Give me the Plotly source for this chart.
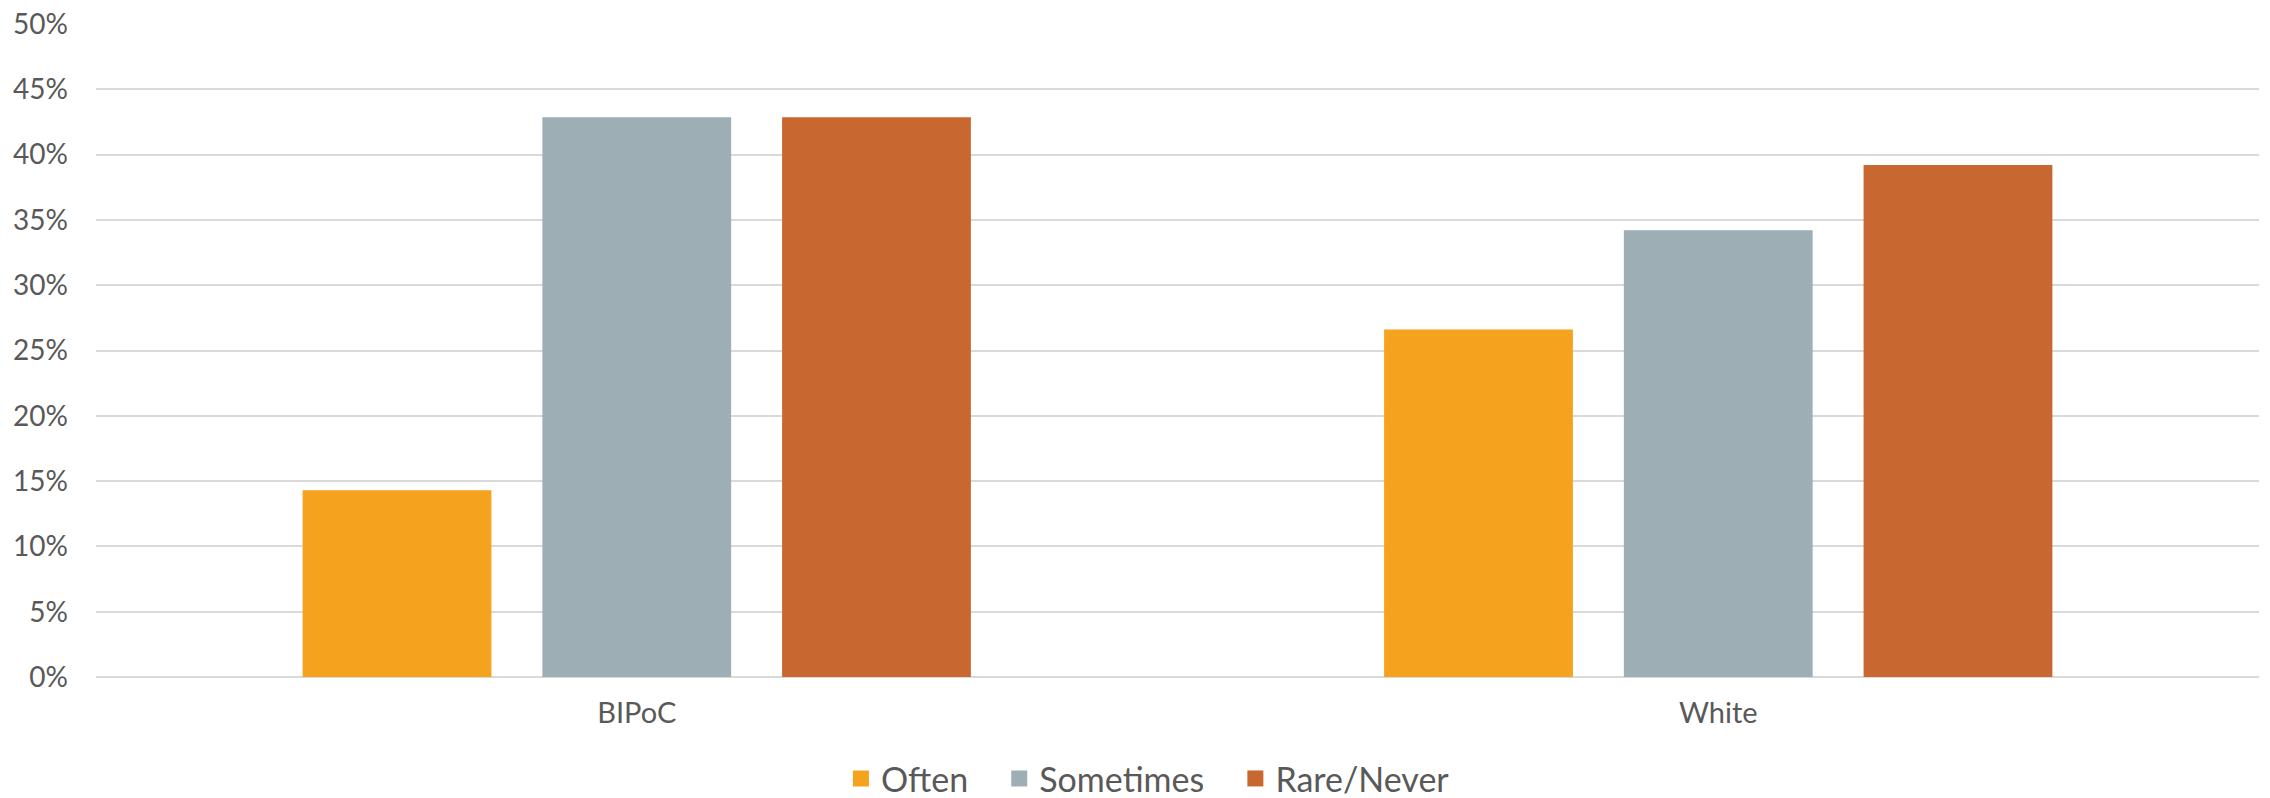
import plotly.graph_objects as go

categories = ["BIPoC", "White"]
series_names = ["Often", "Sometimes", "Rare/Never"]
often = [0.1429, 0.266]
sometimes = [0.4286, 0.342]
rare_never = [0.4286, 0.392]
colors = ["#F5A31E", "#9DAFB4", "#C8672F"]
tick_vals = [0, 0.05, 0.10, 0.15, 0.20, 0.25, 0.30, 0.35, 0.40, 0.45, 0.50]
tick_text = ["0%", "5%", "10%", "15%", "20%", "25%", "30%", "35%", "40%", "45%", "50%"]

FONT = "Lato"
TXT = "#595959"
PAD = "\u00a0\u00a0\u00a0"

fig = go.Figure()
for name, vals, col in zip(series_names, [often, sometimes, rare_never], colors):
    fig.add_trace(go.Bar(x=categories, y=vals, name=name, marker_color=col,
                         marker_line_width=0, showlegend=False))
# legend-only entries with larger square markers
for i, (name, col) in enumerate(zip(series_names, colors)):
    label = name + (PAD if i < len(series_names) - 1 else "")
    fig.add_trace(go.Scatter(x=[None], y=[None], mode="markers", name=label,
                             marker=dict(symbol="square", size=17, color=col)))

fig.update_layout(
    width=2270, height=798,
    margin=dict(l=96, r=11, t=24, b=121),
    paper_bgcolor="white", plot_bgcolor="white",
    barmode="group", bargap=0.335, bargroupgap=0.2125,
    font=dict(family=FONT, size=28, color=TXT),
    legend=dict(orientation="h", x=0.5057, xanchor="center", xref="container",
                y=0.024, yanchor="middle", yref="container",
                font=dict(size=34, color=TXT), itemsizing="trace"),
    xaxis=dict(showgrid=False, showline=False, ticks="", tickfont=dict(size=29, color=TXT),
               ticklabelstandoff=16, automargin=False),
    yaxis=dict(range=[0, 0.5], tickvals=tick_vals, ticktext=tick_text, showgrid=True,
               gridcolor="#D9D9D9", gridwidth=1.5, zeroline=True, zerolinecolor="#D9D9D9",
               zerolinewidth=1.5, showline=False, ticks="", ticklabelstandoff=27,
               tickfont=dict(size=28, color=TXT), automargin=False),
)

fig.write_html("out.html", post_script="document.body.style.margin='0';",
               config={"displayModeBar": False})
